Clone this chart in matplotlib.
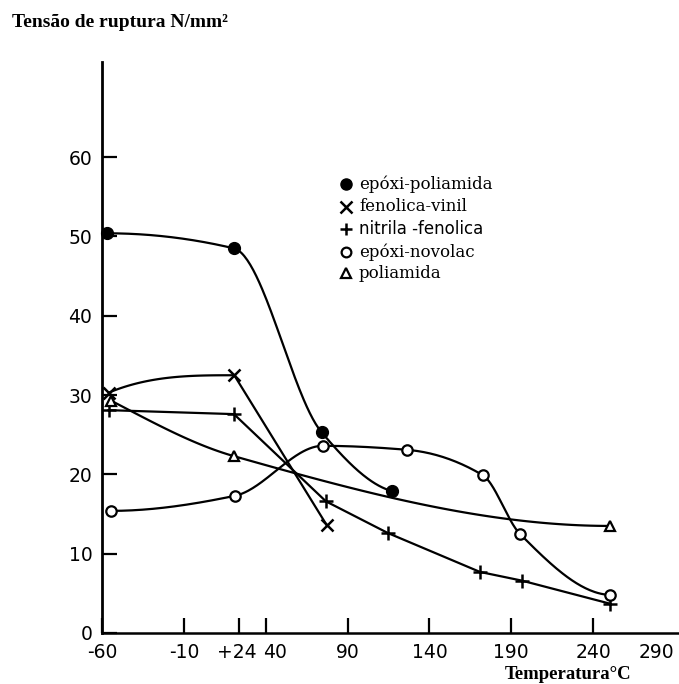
import numpy as np
import matplotlib
matplotlib.use("Agg")
import matplotlib.pyplot as plt
from matplotlib.lines import Line2D

# ---------------- data ----------------
temp_ticks = [-60, -10, 24, 40, 90, 140, 190, 240]
temp_tick_labels = ["-60", "-10", "+24", "40", "90", "140", "190", "240"]
strength_ticks = [0, 10, 20, 30, 40, 50, 60]

ep_pa_t = [-57, 20.6, 74.2, 117.0]            # epóxi-poliamida
ep_pa_v = [50.4, 48.5, 25.3, 17.9]
fv_t = [-56, 20.8, 77.3]                      # fenolica-vinil
fv_v = [30.3, 32.5, 13.6]
nf_t = [-56, 20.6, 76.8, 114.7, 170.9, 196.6, 250.3]   # nitrila-fenolica
nf_v = [28.1, 27.6, 16.6, 12.6, 7.7, 6.6, 3.7]
en_t = [-54.5, 21.2, 74.8, 126.3, 172.6, 195.3, 250.3]  # epóxi-novolac
en_v = [15.4, 17.3, 23.6, 23.1, 19.9, 12.5, 4.8]
pa_t = [-54.5, 20.6, 250.3]                   # poliamida
pa_v = [29.3, 22.3, 13.5]

legend_labels = ["epóxi-poliamida", "fenolica-vinil", "nitrila -fenolica",
                 "epóxi-novolac", "poliamida"]


# ---------------- smooth hand-drawn style curve (monotone cubic) ----------------
def pchip_path(x, y, straight=(), n=60):
    x = np.asarray(x, float)
    y = np.asarray(y, float)
    h = np.diff(x)
    d = np.diff(y) / h
    m = np.zeros_like(x)
    if len(x) == 2:
        m[:] = d[0]
    else:
        for i in range(1, len(x) - 1):
            if d[i - 1] * d[i] > 0:
                w1 = 2 * h[i] + h[i - 1]
                w2 = h[i] + 2 * h[i - 1]
                m[i] = (w1 + w2) / (w1 / d[i - 1] + w2 / d[i])

        def end(h0, h1, d0, d1):
            mm = ((2 * h0 + h1) * d0 - h0 * d1) / (h0 + h1)
            if np.sign(mm) != np.sign(d0):
                mm = 0.0
            elif np.sign(d0) != np.sign(d1) and abs(mm) > abs(3 * d0):
                mm = 3 * d0
            return mm

        m[0] = end(h[0], h[1], d[0], d[1])
        m[-1] = end(h[-1], h[-2], d[-1], d[-2])
    xs, ys = [], []
    for i in range(len(x) - 1):
        t = np.linspace(0, 1, n)
        if i in straight:
            xx = x[i] + t * h[i]
            yy = y[i] + t * (y[i + 1] - y[i])
        else:
            h00 = 2 * t**3 - 3 * t**2 + 1
            h10 = t**3 - 2 * t**2 + t
            h01 = -2 * t**3 + 3 * t**2
            h11 = t**3 - t**2
            xx = x[i] + t * h[i]
            yy = h00 * y[i] + h10 * h[i] * m[i] + h01 * y[i + 1] + h11 * h[i] * m[i + 1]
        xs.append(xx)
        ys.append(yy)
    return np.concatenate(xs), np.concatenate(ys)


W, H = 679, 684
fig = plt.figure(figsize=(W / 100, H / 100), dpi=100)
fig.patch.set_facecolor("white")
ax = fig.add_axes([102 / W, 51 / H, 577 / W, 571 / H])
ax.set_facecolor("white")

LW = 1.6
# curves
x, y = pchip_path(ep_pa_t, ep_pa_v)
ax.plot(x, y, color="black", lw=LW, clip_on=False)
x, y = pchip_path(fv_t, fv_v, straight=(1,))
ax.plot(x, y, color="black", lw=LW, clip_on=False)
ax.plot(nf_t, nf_v, color="black", lw=LW, clip_on=False)
x, y = pchip_path(en_t, en_v)
ax.plot(x, y, color="black", lw=LW, clip_on=False)
x, y = pchip_path(pa_t, pa_v)
ax.plot(x, y, color="black", lw=LW, clip_on=False)

# markers
ax.plot(ep_pa_t, ep_pa_v, "o", ms=8.5, mfc="black", mec="black", ls="none",
        clip_on=False, zorder=5)
ax.plot(fv_t, fv_v, "x", ms=8.5, mew=1.8, color="black", ls="none",
        clip_on=False, zorder=5)
ax.plot(nf_t, nf_v, "+", ms=10, mew=1.8, color="black", ls="none",
        clip_on=False, zorder=5)
ax.plot(en_t, en_v, "o", ms=7.5, mfc="white", mec="black", mew=1.6, ls="none",
        clip_on=False, zorder=5)
ax.plot(pa_t, pa_v, "^", ms=7.5, mfc="white", mec="black", mew=1.6, ls="none",
        clip_on=False, zorder=5)

# axes
ax.set_xlim(-60, 292.5)
ax.set_ylim(0, 72)
for s in ("top", "right"):
    ax.spines[s].set_visible(False)
ax.spines["left"].set_linewidth(2.0)
ax.spines["bottom"].set_linewidth(1.8)

tick_font = dict(family="DejaVu Sans", size=13.5)
shifted = {"+24": -3, "40": 9}
ax.set_xticks(temp_ticks)
ax.set_xticklabels(["" if lab in shifted else lab for lab in temp_tick_labels],
                   **tick_font)
for t, lab in zip(temp_ticks, temp_tick_labels):
    if lab in shifted:
        ax.annotate(lab, xy=(t, 0), xytext=(shifted[lab] * 0.72, -7),
                    textcoords="offset points", ha="center", va="top",
                    annotation_clip=False, **tick_font)
ax.set_yticks(strength_ticks)
ax.set_yticklabels([str(v) for v in strength_ticks], **tick_font)
ax.tick_params(axis="x", direction="in", length=11, width=1.6, pad=7)
ax.tick_params(axis="y", direction="in", length=11, width=1.6, pad=7)
ax.annotate("290", xy=(279, 0), xytext=(0, -7), textcoords="offset points",
            ha="center", va="top", annotation_clip=False, **tick_font)

# titles
fig.text(12 / W, 1 - 27 / H, "Tensão de ruptura N/mm²", family="Liberation Serif",
         weight="bold", size=14, ha="left", va="baseline")
fig.text(505 / W, 1 - 679 / H, "Temperatura°C", family="Liberation Serif",
         weight="bold", size=13.5, ha="left", va="baseline")

# legend (hand placed like the original)
leg_y = [184, 207, 229, 252, 273]
leg_mk = [dict(marker="o", ms=8, mfc="black", mec="black"),
          dict(marker="x", ms=8, mew=1.8, mec="black"),
          dict(marker="+", ms=9, mew=1.8, mec="black"),
          dict(marker="o", ms=7, mfc="white", mec="black", mew=1.6),
          dict(marker="^", ms=7, mfc="white", mec="black", mew=1.6)]
leg_fam = ["DejaVu Serif", "DejaVu Serif", "DejaVu Sans", "DejaVu Serif", "DejaVu Serif"]
for yy, mk, lab, fam in zip(leg_y, leg_mk, legend_labels, leg_fam):
    fig.add_artist(Line2D([346 / W], [1 - yy / H], ls="none", color="black",
                          transform=fig.transFigure, **mk))
    fig.text(359 / W, 1 - yy / H, lab, family=fam, size=12, ha="left", va="center")

fig.savefig("out.png", dpi=100, facecolor="white")
